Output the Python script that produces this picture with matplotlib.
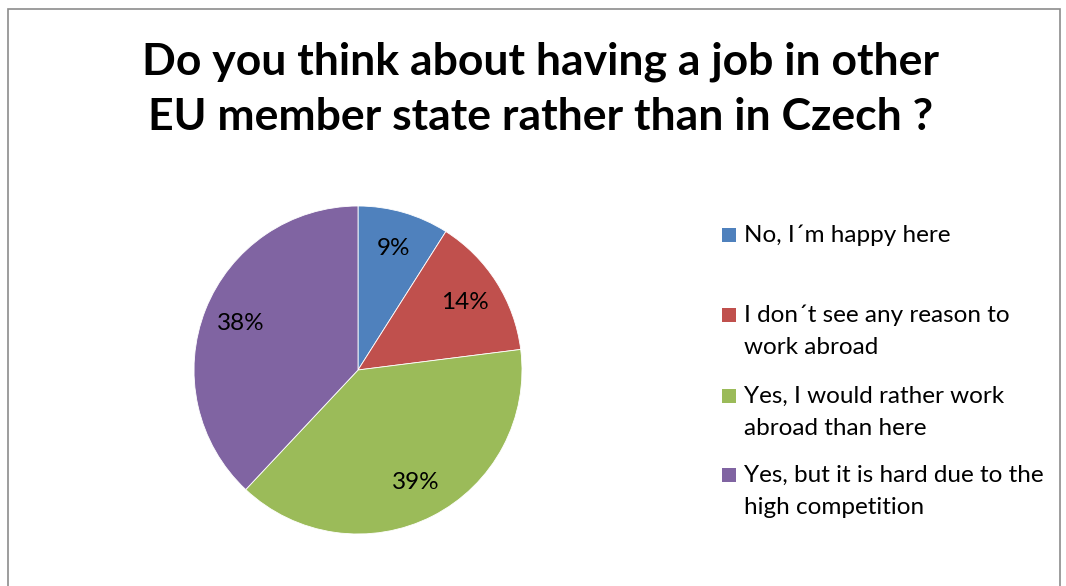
import matplotlib.pyplot as plt
from matplotlib.patches import Rectangle

# survey answers
labels = ["No, I\u00b4m happy here",
          "I don\u00b4t see any reason to\nwork abroad",
          "Yes, I would rather work\nabroad than here",
          "Yes, but it is hard due to the\nhigh competition"]
shares = [9, 14, 39, 38]
pct_labels = ["9%", "14%", "39%", "38%"]
colors = ["#4F81BD", "#C0504D", "#9BBB59", "#8064A2"]
title_lines = ["Do you think about having a job in other",
               "EU member state rather than in Czech ?"]

plt.rcParams['font.family'] = ['Lato', 'DejaVu Sans']

W, H = 1066, 586
fig = plt.figure(figsize=(W / 100, H / 100), dpi=100)

def fy(y):
    # pixel row from top -> figure fraction
    return 1 - y / H

# outer chart border
fig.patches.append(Rectangle((8 / W, -0.1), (1060 - 8) / W, fy(9) + 0.1,
                             transform=fig.transFigure, fill=False,
                             edgecolor="#8c8c8c", linewidth=1.2))

for k, line in enumerate(title_lines):
    fig.text(541 / W, fy(75 + k * 55), line, ha="center", va="baseline",
             fontsize=32, fontweight="bold")

# pie
cx, cy, r = 358, 370, 164
ax = fig.add_axes([(cx - r) / W, (H - cy - r) / H, 2 * r / W, 2 * r / H])
wedges, texts = ax.pie(shares, colors=colors, startangle=90, counterclock=False,
                       labels=pct_labels, labeldistance=0.77,
                       wedgeprops=dict(edgecolor="white", linewidth=0.6),
                       textprops=dict(fontsize=17.5, color="black"))
for t in texts:
    t.set_ha("center")
    t.set_va("center")
ax.set_xlim(-1, 1)
ax.set_ylim(-1, 1)

# legend, drawn by hand: each entry gets a two-line slot
first_base = [242, 322, 403, 482]
for lab, col, yb in zip(labels, colors, first_base):
    fig.patches.append(Rectangle((722 / W, fy(yb)), 14 / W, 14 / H,
                                 transform=fig.transFigure, facecolor=col,
                                 edgecolor="none"))
    for k, part in enumerate(lab.split("\n")):
        fig.text(744 / W, fy(yb + k * 32), part, ha="left", va="baseline",
                 fontsize=17.5)

fig.savefig("out.png", dpi=100)
